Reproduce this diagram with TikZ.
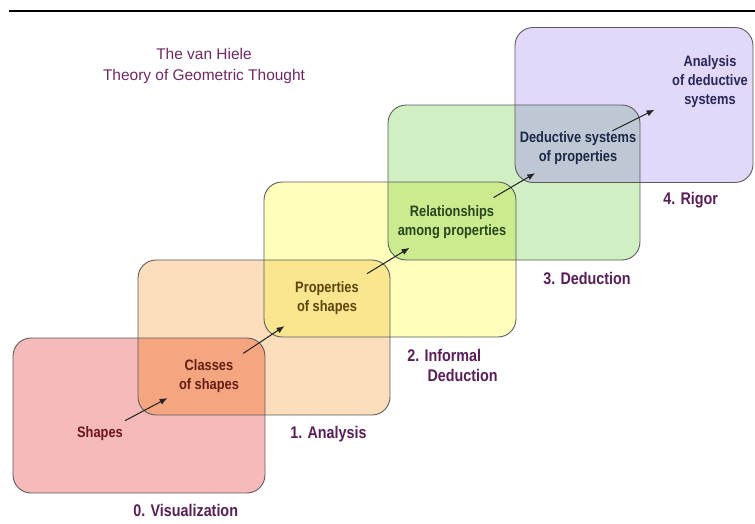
\documentclass[tikz,border=0pt]{standalone}
\usepackage{fontspec}
\setmainfont{Liberation Sans}
\newfontfamily\narrowsf{Liberation Sans}[FakeStretch=0.85]
\usepackage{xcolor}
\usepackage{tikz}
\usetikzlibrary{arrows.meta, positioning, calc}

\definecolor{visfill}{RGB}{246,186,186}
\definecolor{anafill}{RGB}{252,222,188}
\definecolor{inffill}{RGB}{255,255,188}
\definecolor{dedfill}{RGB}{208,240,196}
\definecolor{rigfill}{RGB}{226,216,250}
\definecolor{visana}{RGB}{245,166,128}
\definecolor{anainf}{RGB}{250,230,142}
\definecolor{infded}{RGB}{204,234,142}
\definecolor{dedrig}{RGB}{190,200,212}
\definecolor{titlepurple}{RGB}{112,40,100}
\definecolor{levelpurple}{RGB}{88,30,88}

\begin{document}
\begin{tikzpicture}[
    x=0.02cm, y=-0.02cm,
    stage/.style={rectangle, minimum width=5.04cm, minimum height=3.1cm, rounded corners=0.36cm, inner sep=0pt, outer sep=0pt},
    border/.style={draw=black!65, line width=0.5pt, rounded corners=0.36cm},
    idea/.style={font=\narrowsf\bfseries\fontsize{8.6}{10.8}\selectfont, align=center},
    level/.style={font=\narrowsf\bfseries\fontsize{9.6}{11.4}\selectfont, text=levelpurple, align=left, anchor=west, inner sep=0pt},
    arrow/.style={-{Latex[length=4.5pt,width=3.6pt]}, line width=0.6pt, color=black!85},
    title/.style={font=\fontsize{8.8}{11.9}\selectfont, text=titlepurple, align=center}
]
    \useasboundingbox (0,0) rectangle (755,524);

    % ============================================================
    % HEADER
    % ============================================================
    \draw[line width=1.1pt] (9,11) -- (755,11);
    \node[title] (theory) at (204,66) {The van Hiele\\Theory of Geometric Thought};

    % ============================================================
    % STAGE BOXES
    % ============================================================
    \node[stage, fill=visfill] (vis) at (139,415.5) {};
    \node[stage, fill=anafill] (ana) at (264,337.5) {};
    \node[stage, fill=inffill] (inf) at (390,259.5) {};
    \node[stage, fill=dedfill] (ded) at (514,182.5) {};
    \node[stage, fill=rigfill, minimum width=4.76cm] (rig) at (634,105) {};

    % overlaps of neighbouring stages
    \foreach \lo/\hi/\mix in {vis/ana/visana, ana/inf/anainf, inf/ded/infded, ded/rig/dedrig}{
        \begin{scope}
            \clip[rounded corners=0.36cm] (\lo.south west) rectangle (\lo.north east);
            \fill[\mix, rounded corners=0.36cm] (\hi.south west) rectangle (\hi.north east);
        \end{scope}
    }

    % outlines on top
    \foreach \n in {vis, ana, inf, ded, rig}
        \draw[border] (\n.south west) rectangle (\n.north east);

    % ============================================================
    % CONTENTS
    % ============================================================
    \node[idea, text={rgb,255:red,110;green,20;blue,30}] (shapes) at (100,434) {Shapes};
    \node[idea, text={rgb,255:red,100;green,30;blue,20}] (classes) at (209,376) {Classes\\of shapes};
    \node[idea, text={rgb,255:red,90;green,70;blue,10}] (props) at (327,298) {Properties\\of shapes};
    \node[idea, text={rgb,255:red,40;green,70;blue,30}] (relations) at (452,222) {Relationships\\among properties};
    \node[idea, text={rgb,255:red,30;green,40;blue,70}] (systems) at (578,148) {Deductive systems\\of properties};
    \node[idea, text={rgb,255:red,40;green,40;blue,90}] (analysis) at (710,82) {Analysis\\of deductive\\systems};

    \draw[arrow] ($(shapes)!0.23!(classes)$) -- ($(shapes)!0.62!(classes)$);
    \draw[arrow] ($(classes)!0.29!(props)$) -- ($(classes)!0.64!(props)$);
    \draw[arrow] ($(props)!0.32!(relations)$) -- ($(props)!0.66!(relations)$);
    \draw[arrow] ($(relations)!0.33!(systems)$) -- ($(relations)!0.66!(systems)$);
    \draw[arrow] ($(systems)!0.26!(analysis)$) -- ($(systems)!0.58!(analysis)$);

    % ============================================================
    % LEVEL LABELS
    % ============================================================
    \node[level] (lvl0) at (133,510) {0. Visualization};
    \node[level] (lvl1) at (290,434) {1. Analysis};
    \node[level] (lvl2) at (407,365) {2. Informal\\\hspace*{1.2em}Deduction};
    \node[level] (lvl3) at (543,278) {3. Deduction};
    \node[level] (lvl4) at (663,200) {4. Rigor};

\end{tikzpicture}
\end{document}
